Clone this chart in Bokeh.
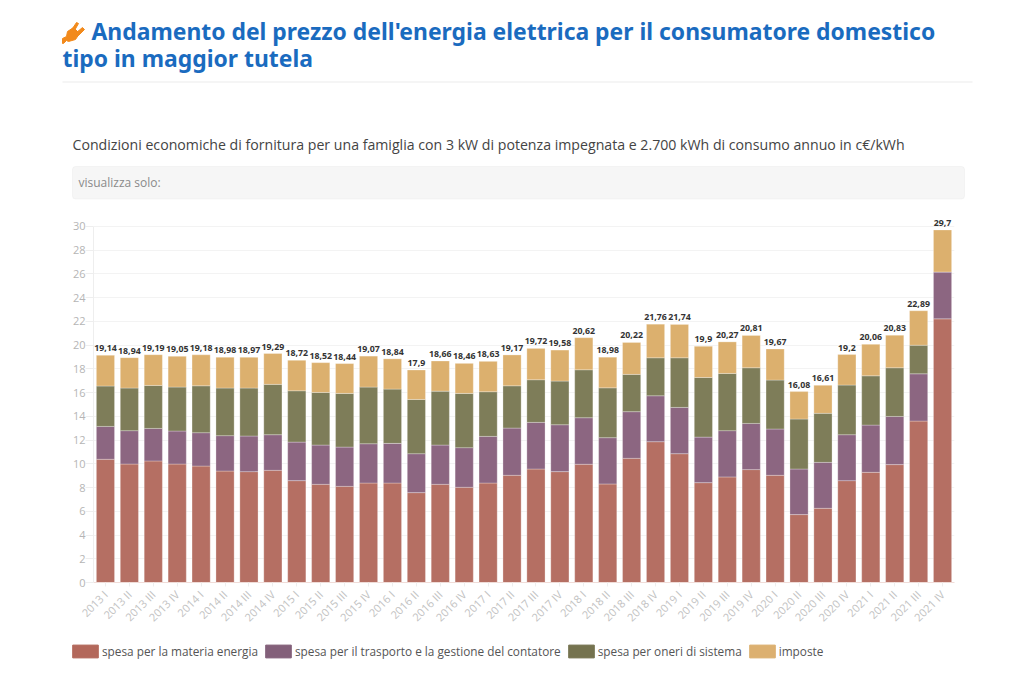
from bokeh.embed import file_html
from bokeh.resources import INLINE
from bokeh.plotting import figure
from bokeh.layouts import column
from bokeh.models import (ColumnDataSource, BoxAnnotation, Legend, LegendItem, FixedTicker, Range1d)
from bokeh.core.properties import value
import math

categories = ["2013 I","2013 II","2013 III","2013 IV","2014 I","2014 II","2014 III","2014 IV",
              "2015 I","2015 II","2015 III","2015 IV","2016 I","2016 II","2016 III","2016 IV",
              "2017 I","2017 II","2017 III","2017 IV","2018 I","2018 II","2018 III","2018 IV",
              "2019 I","2019 II","2019 III","2019 IV","2020 I","2020 II","2020 III","2020 IV",
              "2021 I","2021 II","2021 III","2021 IV"]
energia = [10.38,9.98,10.24,9.98,9.81,9.39,9.34,9.45,8.58,8.27,8.10,8.38,
           8.38,7.57,8.27,8.02,8.38,9.03,9.56,9.34,9.96,8.30,10.46,11.86,
           10.85,8.41,8.89,9.51,9.03,5.72,6.25,8.58,9.28,9.93,13.60,22.21]
trasporto = [2.77,2.81,2.74,2.78,2.81,2.98,3.00,3.00,3.25,3.31,3.31,3.31,
             3.34,3.28,3.31,3.34,3.93,3.98,3.93,3.95,3.92,3.90,3.93,3.87,
             3.90,3.84,3.90,3.89,3.90,3.84,3.87,3.87,3.98,4.06,3.98,3.95]
oneri = [3.40,3.59,3.62,3.70,3.95,4.01,4.04,4.24,4.32,4.43,4.52,4.77,
         4.57,4.57,4.54,4.57,3.76,3.56,3.59,3.68,4.04,4.20,3.14,3.20,
         4.18,5.02,4.82,4.69,4.12,4.21,4.13,4.18,4.15,4.10,2.41,0.0]
imposte = [2.59,2.56,2.59,2.59,2.61,2.60,2.59,2.60,2.57,2.51,2.51,2.61,
           2.55,2.48,2.54,2.53,2.56,2.60,2.64,2.61,2.70,2.58,2.69,2.83,
           2.81,2.63,2.66,2.72,2.62,2.31,2.36,2.57,2.65,2.74,2.90,3.54]
totali = [19.14,18.94,19.19,19.05,19.18,18.98,18.97,19.29,18.72,18.52,18.44,19.07,
          18.84,17.9,18.66,18.46,18.63,19.17,19.72,19.58,20.62,18.98,20.22,21.76,
          21.74,19.9,20.27,20.81,19.67,16.08,16.61,19.2,20.06,20.83,22.89,29.7]
serie = ["spesa per la materia energia", "spesa per il trasporto e la gestione del contatore",
         "spesa per oneri di sistema", "imposte"]
colori = ["#b56f63", "#8c6681", "#7e7d59", "#dcb06e"]
legend_colori = ["#b3685b", "#83607a", "#75734f", "#dcb070"]
titolo = ["Andamento del prezzo dell'energia elettrica per il consumatore domestico", "tipo in maggior tutela"]
sottotitolo = "Condizioni economiche di fornitura per una famiglia con 3 kW di potenza impegnata e 2.700 kWh di consumo annuo in c€/kWh"
filtro = "visualizza solo:"

W = 1008
H_TOP, H_CHART, H_LEG = 214, 422, 28
FONT = "Noto Sans"
BODY = "Open Sans"

# ---- header strip: its range is the strip's own pixels
head = figure(width=W, height=H_TOP, x_range=Range1d(0, W), y_range=Range1d(H_TOP, 0), output_backend="svg",
              toolbar_location=None, x_axis_location=None, y_axis_location=None, min_border=0, frame_align=False)
head.grid.visible = False
head.outline_line_color = None
head.text(x=[91, 62], y=[31, 58], text=titolo, text_font=value(FONT), text_font_style="bold", text_font_size="22.9px",
          text_color="#1a6bbf", text_baseline="middle")
head.add_layout(BoxAnnotation(left=62, right=972, top=81, bottom=82, fill_color="#ececec", fill_alpha=1, line_color=None))
head.text(x=[72], y=[143.5], text=[sottotitolo], text_font=value(BODY), text_font_size="14.15px", text_color="#444444",
          text_baseline="middle")
head.add_layout(BoxAnnotation(left=72, right=964, top=166, bottom=198.5, fill_color="#f6f6f6", fill_alpha=1,
                              line_color="#e4e4e4", line_width=1, border_radius=3, level="underlay"))
head.text(x=[78], y=[182], text=[filtro], text_font=value(BODY), text_font_size="12px", text_color="#8a8a8a",
          text_baseline="middle")
# plug icon
head.patches(xs=[[62, 62, 66, 67, 73, 79, 75, 68, 66, 63],
                 [72, 76, 78, 74],
                 [76, 82, 84, 78]],
             ys=[[43, 38, 36, 31, 27, 33, 39, 41, 40, 43],
                 [28, 22, 23, 30],
                 [32, 27, 29, 35]],
             fill_color="#f28a1c", line_color="#f28a1c")

# ---- chart
source = ColumnDataSource(dict(x=categories, energia=energia, trasporto=trasporto, oneri=oneri, imposte=imposte,
                               totali=totali, etichette=[str(t).replace(".", ",") for t in totali]))

p = figure(width=W, height=H_CHART, x_range=categories, y_range=Range1d(0, 31), output_backend="svg", toolbar_location=None,
           min_border_left=93, min_border_right=54, min_border_top=0, min_border_bottom=54, frame_align=False,
           background_fill_color="white", border_fill_color="white")
p.outline_line_color = None

keys = ["energia", "trasporto", "oneri", "imposte"]
rs = p.vbar_stack(keys, x="x", width=0.76, source=source, color=colori, line_color="#ffffff", line_alpha=0.35, line_width=0.8)

p.text(x="x", y="totali", text="etichette", source=source, text_align="center", text_baseline="bottom",
       y_offset=-4, text_font=value(FONT), text_font_style="bold", text_font_size="8.8px", text_color="#333333")

p.yaxis.ticker = FixedTicker(ticks=list(range(0, 31, 2)))
p.yaxis.bounds = (0, 30)
p.yaxis.axis_line_color = "#eeeeee"
p.yaxis.major_tick_line_color = "#eeeeee"
p.yaxis.major_tick_out = 8
p.yaxis.major_tick_in = 0
p.yaxis.minor_tick_line_color = None
p.yaxis.major_label_text_color = "#b5b5b5"
p.yaxis.major_label_text_font = BODY
p.yaxis.major_label_text_font_size = "11px"
p.yaxis.major_label_standoff = 0
p.xaxis.axis_line_color = "#f0dcd8"
p.xaxis.major_tick_line_color = "#eeeeee"
p.xaxis.major_tick_out = 4
p.xaxis.major_tick_in = 0
p.xaxis.minor_tick_line_color = None
p.xaxis.major_label_orientation = math.pi / 4
p.xaxis.major_label_text_color = "#c2c2c2"
p.xaxis.major_label_text_font = BODY
p.xaxis.major_label_text_font_size = "11px"
p.xaxis.major_label_standoff = 6
p.xgrid.grid_line_color = None
p.ygrid.grid_line_color = "#f3f3f3"
p.ygrid.ticker = FixedTicker(ticks=list(range(0, 31, 2)))

# ---- legend strip: the key's bars lie below the strip's range, only their swatches show
leg = figure(width=W, height=H_LEG, x_range=Range1d(0, W), y_range=Range1d(0, H_LEG), output_backend="svg",
             toolbar_location=None, x_axis_location=None, y_axis_location=None, min_border=0, frame_align=False)
leg.grid.visible = False
leg.outline_line_color = None
swatches = [leg.vbar(x=[0], bottom=[-20], top=[-10], width=1, color=c) for c in legend_colori]
legend = Legend(items=[LegendItem(label=s, renderers=[r]) for s, r in zip(serie, swatches)],
                orientation="horizontal", location=(69, 5), padding=0, margin=0, spacing=4,
                glyph_width=32, glyph_height=16, label_standoff=1, border_line_color=None,
                background_fill_alpha=0, label_text_font=BODY, label_text_font_size="11.8px",
                label_text_color="#555555", label_height=16)
leg.add_layout(legend, "center")

page = column(head, p, leg, spacing=0)
open("out.html", "w").write(file_html(page, INLINE))
